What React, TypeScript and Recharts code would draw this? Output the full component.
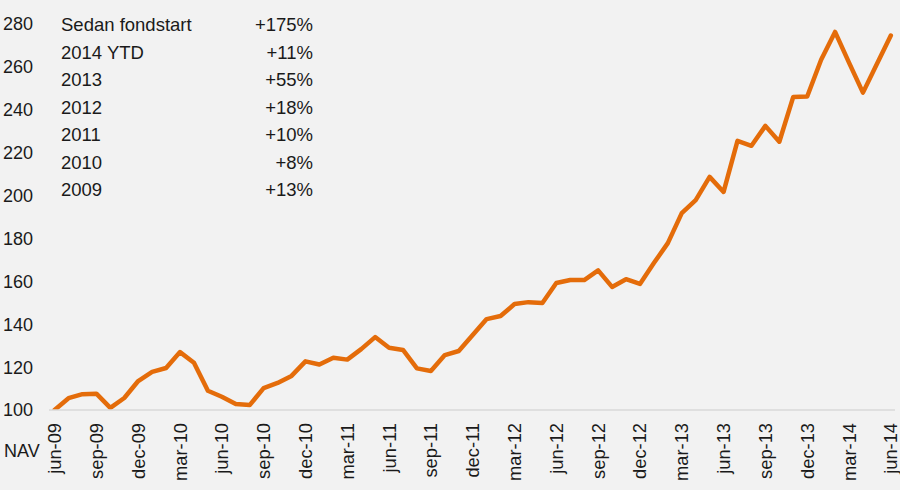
import React from "react";
import { LineChart, Line, XAxis, YAxis } from "recharts";

const navValues: number[] = [
  100, 105.5, 107.4, 107.6, 101, 105.6, 113.5, 117.8, 119.6, 127,
  122, 109, 106.2, 102.8, 102.3, 110.2, 112.6, 115.9, 122.7, 121.2,
  124.4, 123.5, 128.4, 134, 129, 128, 119.4, 118.2, 125.6, 127.5,
  135, 142.4, 143.8, 149.4, 150.3, 149.9, 159.2, 160.6, 160.6, 165.1,
  157.4, 161, 158.8, 168.5, 177.8, 191.8, 197.9, 208.7, 201.7, 225.5,
  223.2, 232.5, 225.1, 246, 246.2, 263.3, 276.3, 262, 248, 261.3, 274.6,
];

const tickLabels: string[] = [
  "jun-09", "sep-09", "dec-09", "mar-10", "jun-10", "sep-10", "dec-10",
  "mar-11", "jun-11", "sep-11", "dec-11", "mar-12", "jun-12", "sep-12",
  "dec-12", "mar-13", "jun-13", "sep-13", "dec-13", "mar-14", "jun-14",
];
const tickStep = 3;

const yTicks: number[] = [100, 120, 140, 160, 180, 200, 220, 240, 260, 280];

const periodLabels: string[] = ["Sedan fondstart", "2014 YTD", "2013", "2012", "2011", "2010", "2009"];
const periodReturns: string[] = ["+175%", "+11%", "+55%", "+18%", "+10%", "+8%", "+13%"];

const data = navValues.map((v, i) => ({ idx: i, nav: v }));
const xTicks = tickLabels.map((_, i) => i * tickStep);

const FONT = "'Liberation Sans', Arial, sans-serif";
const TEXT = "#1a1a1a";

const XTick = (props: any) => {
  const { x, y, payload } = props;
  const label = tickLabels[Math.round(payload.value / tickStep)] ?? "";
  return (
    <text
      x={x}
      y={y}
      transform={`rotate(-90, ${x}, ${y})`}
      textAnchor="end"
      dominantBaseline="central"
      fontSize={18.3}
      fontFamily={FONT}
      fill={TEXT}
    >
      {label}
    </text>
  );
};

export default function App() {
  return (
    <div
      style={{
        position: "absolute",
        left: 0,
        top: 0,
        width: 900,
        height: 490,
        background: "#f2f2f2",
        fontFamily: FONT,
        color: TEXT,
        overflow: "hidden",
      }}
    >
      <LineChart
        width={900}
        height={490}
        data={data}
        margin={{ top: 24, right: 5, bottom: 0, left: 0 }}
      >
        <XAxis
          dataKey="idx"
          type="number"
          domain={[-0.4, 60.3]}
          ticks={xTicks}
          interval={0}
          height={80}
          tickLine={false}
          tickSize={0}
          tickMargin={13}
          axisLine={{ stroke: "#d9d9d9", strokeWidth: 1.5 }}
          tick={<XTick />}
          allowDataOverflow
        />
        <YAxis
          type="number"
          domain={[100, 280]}
          ticks={yTicks}
          width={49}
          axisLine={false}
          tickLine={false}
          tickSize={0}
          tickMargin={16}
          tick={{ fontSize: 18, fontFamily: FONT, fill: TEXT }}
          allowDataOverflow
        />
        <Line
          type="linear"
          dataKey="nav"
          stroke="#e46c0a"
          strokeWidth={4.5}
          strokeLinejoin="round"
          strokeLinecap="round"
          dot={false}
          activeDot={false}
          isAnimationActive={false}
        />
      </LineChart>
      <div
        style={{
          position: "absolute",
          left: 61,
          top: 11,
          width: 252,
          fontSize: 18.5,
          lineHeight: "27.5px",
        }}
      >
        {periodLabels.map((p, i) => (
          <div key={p} style={{ display: "flex", justifyContent: "space-between" }}>
            <span>{p}</span>
            <span>{periodReturns[i]}</span>
          </div>
        ))}
      </div>
      <div style={{ position: "absolute", left: 4, top: 441, fontSize: 18 }}>NAV</div>
    </div>
  );
}
